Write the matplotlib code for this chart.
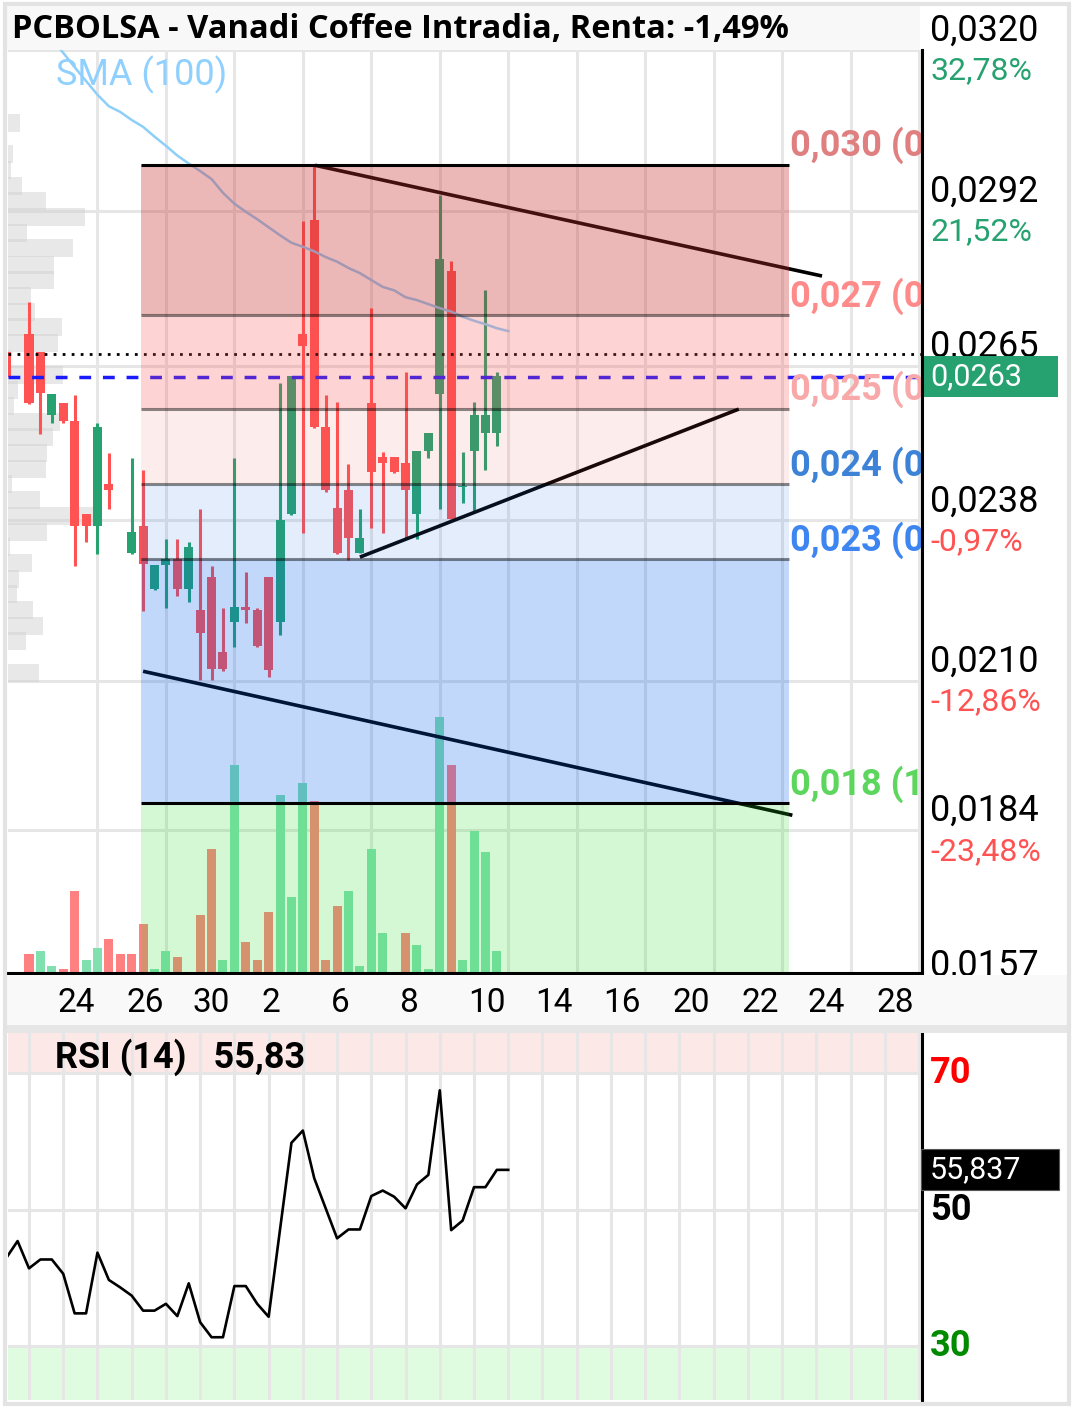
import math
import numpy as np
import matplotlib
matplotlib.use("Agg")
import matplotlib.pyplot as plt
from matplotlib.patches import Rectangle
from matplotlib.transforms import blended_transform_factory as blend

plt.rcParams['font.family'] = ['Roboto', 'DejaVu Sans']

# ---------------- data ----------------
# intraday candles, index -2 .. 41
candle_idx = list(range(-2, 42))
opens = [0.02674, 0.02650, 0.02705, 0.02674, 0.02564, 0.02585, 0.02553, 0.02391, 0.02370, 0.02443,
         0.02400, 0.02323, 0.02370, 0.02260, 0.02302, 0.02313, 0.02260, 0.02224, 0.02281, 0.02151,
         0.02203, 0.02229, 0.02224, 0.02281, 0.02203, 0.02391, 0.02705, 0.02904, 0.02543, 0.02402,
         0.02433, 0.02323, 0.02585, 0.02490, 0.02490, 0.02480, 0.02391, 0.02501, 0.02600, 0.02815,
         0.02438, 0.02501, 0.02532, 0.02532]
highs = [0.02674, 0.02650, 0.02761, 0.02674, 0.02600, 0.02585, 0.02599, 0.02391, 0.02550, 0.02497,
         0.02400, 0.02489, 0.02468, 0.02302, 0.02348, 0.02348, 0.02342, 0.02400, 0.02300, 0.02227,
         0.02489, 0.02290, 0.02227, 0.02281, 0.02619, 0.02632, 0.02902, 0.03000, 0.02599, 0.02586,
         0.02478, 0.02400, 0.02750, 0.02499, 0.02490, 0.02639, 0.02501, 0.02532, 0.02947, 0.02832,
         0.02499, 0.02586, 0.02782, 0.02639]
lows = [0.02630, 0.02650, 0.02583, 0.02531, 0.02550, 0.02550, 0.02300, 0.02342, 0.02321, 0.02400,
        0.02400, 0.02321, 0.02222, 0.02259, 0.02227, 0.02248, 0.02238, 0.02102, 0.02102, 0.02117,
        0.02159, 0.02201, 0.02159, 0.02107, 0.02180, 0.02389, 0.02358, 0.02541, 0.02429, 0.02321,
        0.02311, 0.02323, 0.02367, 0.02358, 0.02463, 0.02348, 0.02348, 0.02489, 0.02400, 0.02382,
        0.02410, 0.02395, 0.02468, 0.02510]
closes = [0.02630, 0.02650, 0.02585, 0.02602, 0.02600, 0.02553, 0.02370, 0.02370, 0.02543, 0.02433,
          0.02400, 0.02360, 0.02304, 0.02302, 0.02313, 0.02260, 0.02334, 0.02184, 0.02121, 0.02121,
          0.02229, 0.02224, 0.02161, 0.02119, 0.02381, 0.02632, 0.02684, 0.02543, 0.02433, 0.02323,
          0.02349, 0.02349, 0.02464, 0.02480, 0.02464, 0.02433, 0.02501, 0.02532, 0.02836, 0.02382,
          0.02440, 0.02564, 0.02564, 0.02632]

# volume per candle (index 0 .. 41), and whether close >= previous close
vol_idx = list(range(0, 42))
volume = [19, 22, 7, 4, 82, 13, 25, 34, 19, 19,
          49, 4, 22, 16, 0, 58, 124, 13, 208, 31,
          13, 61, 178, 76, 190, 172, 13, 67, 82, 7,
          124, 40, 0, 40, 28, 4, 256, 208, 13, 142,
          121, 22]
vol_up = [0, 1, 1, 0, 0, 1, 1, 0, 0, 0,
          0, 1, 1, 0, 1, 0, 0, 1, 1, 0,
          0, 0, 1, 1, 1, 0, 0, 0, 1, 1,
          1, 1, 0, 0, 1, 1, 1, 0, 1, 1,
          1, 1]

# indicators, index -2 .. 42
ind_idx = list(range(-2, 43))
sma100 = [0.03317, 0.03292, 0.03268, 0.03244, 0.03219, 0.03195, 0.03170, 0.03146, 0.03122, 0.03102,
          0.03092, 0.03078, 0.03066, 0.03049, 0.03033, 0.03016, 0.03002, 0.02989, 0.02975, 0.02951,
          0.02932, 0.02918, 0.02905, 0.02891, 0.02877, 0.02864, 0.02857, 0.02849, 0.02839, 0.02831,
          0.02820, 0.02811, 0.02799, 0.02787, 0.02781, 0.02769, 0.02764, 0.02757, 0.02750, 0.02744,
          0.02735, 0.02728, 0.02722, 0.02715, 0.02710]
rsi14 = [42.9, 45.4, 41.4, 42.7, 42.7, 40.6, 34.8, 34.8, 43.7, 39.7,
         38.6, 37.4, 35.2, 35.2, 36.2, 34.4, 39.2, 33.5, 31.3, 31.3,
         38.8, 38.8, 36.2, 34.3, 47.1, 59.8, 61.6, 54.6, 50.2, 45.8,
         47.1, 47.1, 52.0, 52.8, 51.9, 50.2, 53.7, 55.1, 67.5, 47.0,
         48.4, 53.3, 53.3, 55.837, 55.837]

# volume by price (left histogram)
prof_price = [0.03073, 0.03046, 0.03018, 0.02991, 0.02963, 0.02936, 0.02909, 0.02881, 0.02854, 0.02826,
              0.02799, 0.02771, 0.02744, 0.02717, 0.02689, 0.02662, 0.02634, 0.02607, 0.02580, 0.02552,
              0.02525, 0.02497, 0.02470, 0.02443, 0.02415, 0.02388, 0.02360, 0.02333, 0.02306, 0.02278,
              0.02251, 0.02223, 0.02196, 0.02169, 0.02141, 0.02114]
prof_vol = [12, 0, 5, 3, 14, 38, 77, 19, 65, 46,
            46, 23, 27, 54, 50, 3, 55, 10, 6, 52,
            45, 39, 38, 4, 32, 85, 39, 2, 24, 11,
            9, 25, 35, 18, 0, 31]

prev_close = 0.0267
last_price = 0.0263

fib_top, fib_bottom = 0.0300, 0.01887
fib_ratios = [0, 0.236, 0.382, 0.5, 0.618, 1.0]
fib_from, fib_to = 9.85, 66.6

trend_x = [(25.07, 69.5), (29.0, 62.2), (10.0, 66.9)]
trend_y = [(0.02999, 0.02806), (0.02316, 0.02574), (0.02117, 0.01866)]

price_ticks = [0.0320, 0.0292, 0.0265, 0.0238, 0.0210, 0.0184, 0.0157]
price_labels = ['0,0320', '0,0292', '0,0265', '0,0238', '0,0210', '0,0184', '0,0157']
pct_labels = ['32,78%', '21,52%', '', '-0,97%', '-12,86%', '-23,48%', '']

xtick_pos = [4.1, 10.2, 15.95, 21.2, 27.26, 33.3, 40.1, 46.0, 52.0, 58.0, 64.07, 69.85, 75.9]
xtick_labels = ['24', '26', '30', '2', '6', '8', '10', '14', '16', '20', '22', '24', '28']

title = 'PCBOLSA - Vanadi Coffee Intradia, Renta: -1,49%'

# ---------------- layout ----------------
W, H = 1076, 1409
def fx(px):
    return px / W
def fy(py):
    return 1 - py / H

UP, DOWN = '#26A270', '#FF5252'
GRID = '#E6E6E6'
XLIM = (-1.84, 78.26)
YLIM = (0.01591, 0.0320)
MAIN_H = 923
px2price = (YLIM[1] - YLIM[0]) / MAIN_H

fig = plt.figure(figsize=(W / 100, H / 100), dpi=100)
fig.patch.set_facecolor('white')
ax = fig.add_axes([fx(8), fy(973), fx(922) - fx(8), fy(50) - fy(973)])
rax = fig.add_axes([fx(8), fy(1400), fx(922) - fx(8), fy(1033) - fy(1400)])

# ---------------- main price panel ----------------
for v in range(6, 79, 6):
    ax.axvline(v, color=GRID, lw=2.2, zorder=0.5)
for v in price_ticks:
    ax.axhline(v, color=GRID, lw=2.2, zorder=0.5)

ptrans = blend(ax.transAxes, ax.transData)
ax.barh(prof_price, np.array(prof_vol) / 914, height=18 * px2price, left=0,
        color='#CFCFCF', alpha=0.48, linewidth=0, transform=ptrans, zorder=1)

vtrans = blend(ax.transData, ax.transAxes)
ax.bar(vol_idx, np.array(volume) / MAIN_H, width=0.79, bottom=0,
       color=['#80E0B0' if u else '#FF8080' for u in vol_up],
       linewidth=0, transform=vtrans, zorder=1.5)

o, h, l, c = map(np.array, (opens, highs, lows, closes))
cols = [UP if cc >= oo else DOWN for oo, cc in zip(o, c)]
ax.vlines(candle_idx, l, h, colors=cols, lw=2.2, zorder=2)
ax.bar(candle_idx, np.abs(c - o), bottom=np.minimum(o, c), width=0.79,
       color=cols, linewidth=0, zorder=2.1)

ax.plot(ind_idx, sma100, color='#8ECFFA', lw=1.8, zorder=2.2)

for xs, ys in zip(trend_x, trend_y):
    ax.plot(xs, ys, color='black', lw=2.6, solid_capstyle='butt', zorder=2.5)

ax.axhline(prev_close, color='black', lw=2.0, dashes=(1, 2.25), zorder=2.5)
ax.axhline(last_price, color='#1a1aff', lw=2.5, dashes=(3.4, 3.4), zorder=2.5)

# fibonacci retracement
levels = [fib_top - r * (fib_top - fib_bottom) for r in fib_ratios]
bounds = levels + [YLIM[0]]
zone_col = ['#CA2E2E', '#FA5050', '#F55252', '#2878E6', '#005CED', '#28DC28']
zone_alpha = [0.34, 0.25, 0.11, 0.13, 0.24, 0.2]
for k in range(6):
    ax.add_patch(Rectangle((fib_from, bounds[k + 1]), fib_to - fib_from, bounds[k] - bounds[k + 1],
                           facecolor=zone_col[k], alpha=zone_alpha[k], linewidth=0, zorder=3))
for k, lv in enumerate(levels):
    solid = k in (0, len(levels) - 1)
    ax.hlines(lv, fib_from, fib_to, color='black', alpha=1 if solid else 0.45, lw=2.2, zorder=3.5)

lab_col = ['#E07F7F', '#FF8A8A', '#F8A8A8', '#3C82D6', '#3D85F0', '#5CD65C']
for r, lv, col in zip(fib_ratios, levels, lab_col):
    txt = (f"{math.floor(lv * 1000 + 1e-9) / 1000:.3f} ({r:g})").replace('.', ',')
    ax.annotate(txt, xy=(fib_to, lv), xytext=(1, 13.7), textcoords='offset points',
                ha='left', va='center', fontsize=26, fontweight='bold', color=col,
                clip_on=True, zorder=4)

ax.text((56 - 8) / 914, 1 - 25 / MAIN_H, 'SMA (100)', transform=ax.transAxes,
        color='#90D0FF', fontsize=26, ha='left', va='center', zorder=4)

# right price scale
for v, lab, pct in zip(price_ticks, price_labels, pct_labels):
    ax.annotate(lab, xy=(1, v), xycoords=('axes fraction', 'data'), xytext=(5.8, 13.7),
                textcoords='offset points', fontsize=26, ha='left', va='center',
                annotation_clip=False, zorder=4)
    if pct:
        ax.annotate(pct, xy=(1, v), xycoords=('axes fraction', 'data'), xytext=(5.8, -15.1),
                    textcoords='offset points', fontsize=23, ha='left', va='center',
                    color=UP if not pct.startswith('-') else DOWN,
                    annotation_clip=False, zorder=4)

ax.add_patch(Rectangle((1.0, last_price - 20.5 * px2price), 136 / 914, 41 * px2price,
                       transform=ptrans, facecolor=UP, linewidth=0, clip_on=False, zorder=5))
ax.annotate(f"{last_price:.4f}".replace('.', ','), xy=(1, last_price),
            xycoords=('axes fraction', 'data'), xytext=(5.8, 0), textcoords='offset points',
            fontsize=22, color='white', ha='left', va='center', annotation_clip=False, zorder=6)

ax.set_xlim(XLIM)
ax.set_ylim(YLIM)
ax.set_xticks([])
ax.set_yticks([])
for s in ('top', 'left'):
    ax.spines[s].set_visible(False)
for s in ('right', 'bottom'):
    ax.spines[s].set_linewidth(2.2)
    ax.spines[s].set_zorder(6)

# ---------------- RSI panel ----------------
RLIM = (22.1, 75.9)
rax.axhspan(70, RLIM[1], color='#FDE8E8', lw=0, zorder=0)
rax.axhspan(RLIM[0], 30, color='#E0FCE0', lw=0, zorder=0)
for v in range(0, 79, 3):
    rax.axvline(v, color=GRID, lw=2.2, zorder=0.5)
for v in (30, 50, 70):
    rax.axhline(v, color=GRID, lw=2.2, zorder=0.5)
rax.plot(ind_idx, rsi14, color='black', lw=1.9, zorder=2)

rsi_last = rsi14[-1]
rax.text((55 - 8) / 914, 1 - 24 / 367,
         f"RSI (14)   {math.floor(rsi_last * 100) / 100:.2f}".replace('.', ','),
         transform=rax.transAxes, fontsize=26, fontweight='bold', ha='left', va='center', zorder=3)
for v, col in ((70, '#FF0000'), (50, 'black'), (30, '#008A00')):
    rax.annotate(str(v), xy=(1, v), xycoords=('axes fraction', 'data'), xytext=(5.8, 0),
                 textcoords='offset points', fontsize=26, fontweight='bold', color=col,
                 ha='left', va='center', annotation_clip=False, zorder=3)
rpx = (RLIM[1] - RLIM[0]) / 367
rtrans = blend(rax.transAxes, rax.transData)
rax.add_patch(Rectangle((1 - 1.3 / 914, rsi_last - 20.5 * rpx), 138 / 914, 41 * rpx,
                        transform=rtrans, facecolor='black', edgecolor='#555555', lw=0.8,
                        clip_on=False, zorder=5))
rax.annotate(f"{rsi_last:.3f}".replace('.', ','), xy=(1, rsi_last),
             xycoords=('axes fraction', 'data'), xytext=(5.8, 0), textcoords='offset points',
             fontsize=22, color='white', ha='left', va='center', annotation_clip=False, zorder=6)
rax.set_xlim(XLIM)
rax.set_ylim(RLIM)
rax.set_xticks([])
rax.set_yticks([])
for s in ('top', 'left', 'bottom'):
    rax.spines[s].set_visible(False)
rax.spines['right'].set_linewidth(2.2)

# ---------------- figure furniture ----------------
def box(x0, y0, x1, y1, **kw):
    fig.patches.append(Rectangle((fx(x0), fy(y1)), fx(x1) - fx(x0), fy(y0) - fy(y1),
                                 transform=fig.transFigure, **kw))

box(7, 975, 1067, 1025, facecolor='#F9F9F9', linewidth=0, zorder=1)
box(5, 1025, 1069, 1033, facecolor='#E6E6E6', linewidth=0, zorder=1)
box(7, 6, 920, 50, facecolor='#F8F8F8', linewidth=0, zorder=1)
box(5, 4, 1069, 1404, fill=False, edgecolor='#E3E3E3', linewidth=3, zorder=4)

fig.text(fx(12), fy(29), title, fontsize=23.5, fontweight='bold',
         family=['Open Sans', 'DejaVu Sans'], ha='left', va='center', zorder=3)

xt = blend(ax.transData, fig.transFigure)
for p, lab in zip(xtick_pos, xtick_labels):
    fig.text(p, fy(1003), lab, transform=xt, fontsize=24, ha='center', va='center', zorder=3)

fig.savefig('out.png', dpi=100)
